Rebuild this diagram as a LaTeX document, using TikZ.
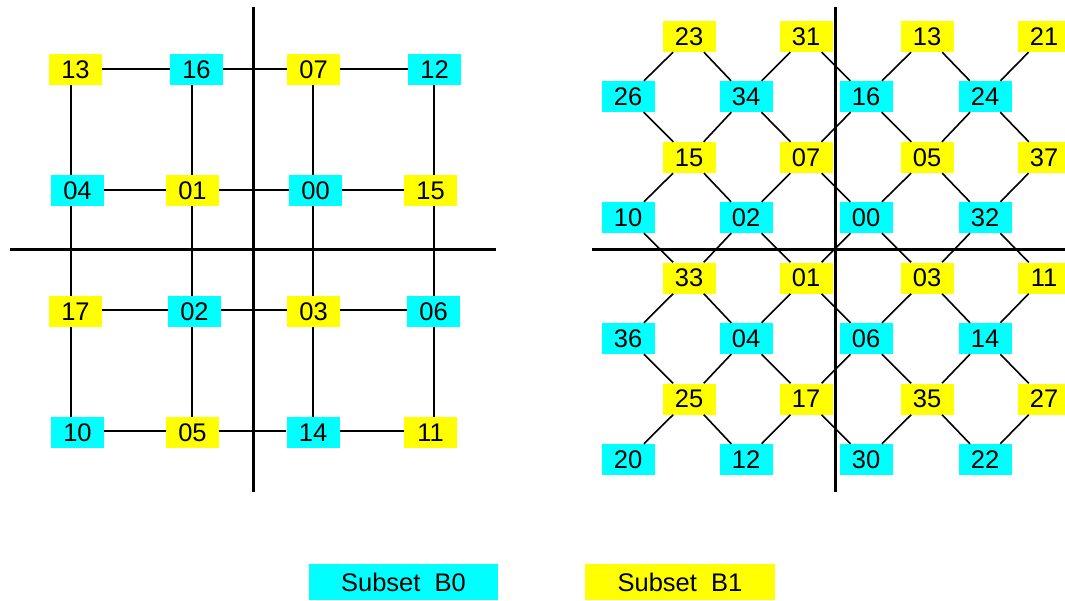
\documentclass[tikz,border=0pt]{standalone}
\usepackage{fontspec}
\setmainfont{Liberation Sans}
\definecolor{cyanB}{RGB}{0,255,255}
\definecolor{yellowB}{RGB}{255,255,0}
\begin{document}
\begin{tikzpicture}[x=1pt,y=-1pt,
  cell/.style={minimum width=53pt,minimum height=31pt,inner sep=0pt,
    font=\fontsize{25.5}{28}\selectfont},
  bz/.style={cell,fill=cyanB},
  bo/.style={cell,fill=yellowB},
  link/.style={line width=1.6pt},
  axis/.style={line width=3pt}]
\useasboundingbox (0,0) rectangle (1065,600);
\clip (0,0) rectangle (1065,600);
% ---------- left grid ----------
\node[bo] (L13) at (75.5,69.5) {13};
\node[bz] (L16) at (196.5,69.5) {16};
\node[bo] (L07) at (313.5,69.5) {07};
\node[bz] (L12) at (434.5,69.5) {12};
\node[bz] (L04) at (77.5,190.5) {04};
\node[bo] (L01) at (192.5,190.5) {01};
\node[bz] (L00) at (315.5,190.5) {00};
\node[bo] (L15) at (430.5,190.5) {15};
\node[bo] (L17) at (75.5,311.5) {17};
\node[bz] (L02) at (194.5,311.5) {02};
\node[bo] (L03) at (313.5,311.5) {03};
\node[bz] (L06) at (433.5,311.5) {06};
\node[bz] (L10) at (77.5,432.5) {10};
\node[bo] (L05) at (192.5,432.5) {05};
\node[bz] (L14) at (313,432.5) {14};
\node[bo] (L11) at (430.5,432.5) {11};
\foreach \a/\b/\y in {13/16/69,16/07/69,07/12/69,04/01/190,01/00/190,00/15/190,17/02/310,02/03/310,03/06/310,10/05/431,05/14/431,14/11/431}
  \draw[link] (L\a.east |- 0,\y) -- (L\b.west |- 0,\y);
\foreach \a/\b/\x in {13/04/71,04/17/71,17/10/71,16/01/192,01/02/192,02/05/192,07/00/313,00/03/313,03/14/313,12/15/434,15/06/434,06/11/434}
  \draw[link] (L\a.south -| \x,0) -- (L\b.north -| \x,0);
\draw[axis] (253,7) -- (253,492);
\draw[axis] (10,249) -- (496,249);
% ---------- right lattice ----------
\foreach \r/\y in {1/36.5,3/157.5,5/278,7/399}{
  \foreach \c/\x in {1/689,2/806,3/927,4/1044}
    \coordinate (P\r-\c) at (\x,\y);
}
\foreach \r/\y in {2/96.5,4/217.5,6/338.5,8/459.5}{
  \foreach \c/\x in {1/628,2/746,3/866,4/985}
    \coordinate (P\r-\c) at (\x,\y);
}
\foreach \r/\labs in {1/{23,31,13,21},3/{15,07,05,37},5/{33,01,03,11},7/{25,17,35,27}}{
  \foreach \t [count=\c] in \labs
    \node[bo] (R\r-\c) at (P\r-\c) {\t};
}
\foreach \r/\labs in {2/{26,34,16,24},4/{10,02,00,32},6/{36,04,06,14},8/{20,12,30,22}}{
  \foreach \t [count=\c] in \labs
    \node[bz] (R\r-\c) at (P\r-\c) {\t};
}
\foreach \r [evaluate=\r as \n using int(\r+1)] in {1,3,5,7}{
  \foreach \c in {1,2,3,4}
    \draw[link] (R\r-\c) -- (R\n-\c);
  \foreach \c [evaluate=\c as \d using int(\c+1)] in {1,2,3}
    \draw[link] (R\r-\c) -- (R\n-\d);
}
\foreach \r [evaluate=\r as \n using int(\r+1)] in {2,4,6}{
  \foreach \c in {1,2,3,4}
    \draw[link] (R\r-\c) -- (R\n-\c);
  \foreach \c [evaluate=\c as \d using int(\c-1)] in {2,3,4}
    \draw[link] (R\r-\c) -- (R\n-\d);
}
\draw[axis] (835,7) -- (835,492);
\draw[axis] (592,249) -- (1065,249);
% ---------- legend ----------
\node[bz,minimum width=189pt,minimum height=36pt] (LegB0) at (403.5,582) {Subset\ \ B0};
\node[bo,minimum width=190pt,minimum height=36pt] (LegB1) at (680,582) {Subset\ \ B1};
\end{tikzpicture}
\end{document}
